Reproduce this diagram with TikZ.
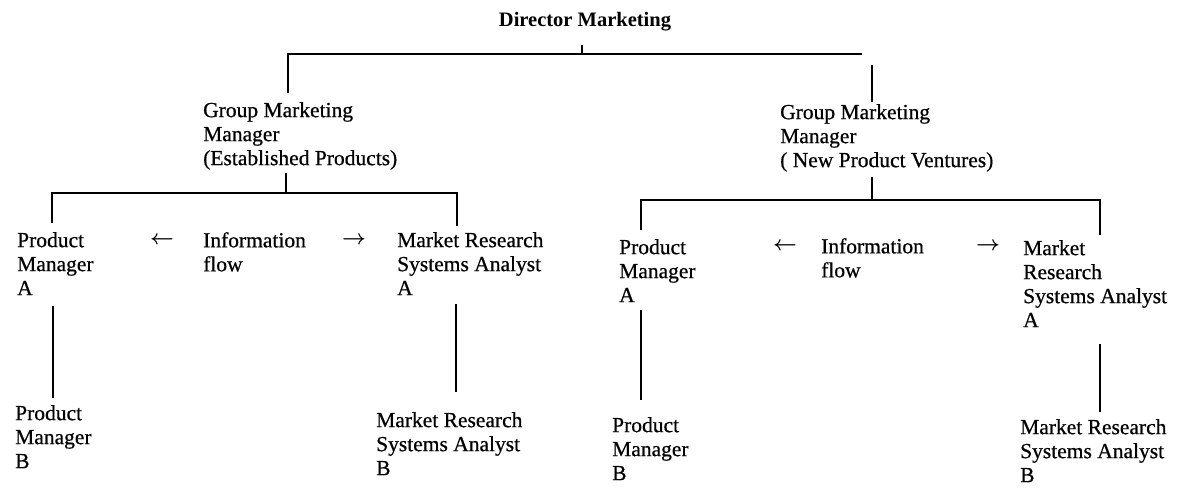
\documentclass[tikz,border=0pt]{standalone}
\usepackage{amsmath}
\usepackage{fontspec}
\setmainfont{Liberation Serif}[UprightFeatures={FakeBold=0.6}]
\usetikzlibrary{positioning}

\begin{document}
\begin{tikzpicture}[
    x = 1pt, y = -1pt,
    txt/.style = {
      anchor = north west, align = left,
      inner sep = 0pt,
      font = \fontsize{21.5}{24}\selectfont,
    },
    flow/.style = {
      inner sep = 0pt,
      font = \fontsize{21.5}{24}\selectfont,
    },
    link/.style = {
      black, line width = 1.6pt,
    },
  ]
  \useasboundingbox (0,0) rectangle (1184,488);

  \node[flow, font=\fontsize{20.5}{24}\selectfont\bfseries] (DM) at (585,22) {Director Marketing};

  \node[txt] (G1) at (203,102) {Group Marketing\\Manager\\(Established Products)};
  \node[txt] (G2) at (780,104) {Group Marketing\\Manager\\( New Product Ventures)};

  % left group
  \node[txt] (P1A) at (17,232) {Product\\Manager\\A};
  \node[flow] (L1) at (162,240) {$\boldsymbol{\leftarrow}$};
  \node[txt] (I1) at (203,232) {Information\\flow};
  \node[flow] (R1) at (354,240) {$\boldsymbol{\rightarrow}$};
  \node[txt] (M1A) at (397,232) {Market Research\\Systems Analyst\\A};
  \node[txt] (P1B) at (15,405) {Product\\Manager\\B};
  \node[txt] (M1B) at (376,412) {Market Research\\Systems Analyst\\B};

  % right group
  \node[txt] (P2A) at (619,239) {Product\\Manager\\A};
  \node[flow] (L2) at (785,246) {$\boldsymbol{\leftarrow}$};
  \node[txt] (I2) at (821,238) {Information\\flow};
  \node[flow] (R2) at (988,246) {$\boldsymbol{\rightarrow}$};
  \node[txt] (M2A) at (1023,240) {Market\\Research\\Systems Analyst\\A};
  \node[txt] (P2B) at (612,417) {Product\\Manager\\B};
  \node[txt] (M2B) at (1020,419) {Market Research\\Systems Analyst\\B};

  % connectors
  \coordinate (DMo) at (582,45);
  \coordinate (G1i) at (288,93);
  \coordinate (G2i) at (872,102);
  \draw[link] (DMo) -- ++(0,9);
  \draw[link] (G1i) -- ++(0,-39) -- ++(574,0);
  \draw[link] (G2i) -- ++(0,-37);

  \coordinate (G1o) at (286,173);
  \coordinate (P1Ai) at (52,223);
  \coordinate (M1Ai) at (457,226);
  \draw[link] (G1o) -- ++(0,20);
  \draw[link] (P1Ai) -- ++(0,-30) -- ++(405,0) -- (M1Ai);

  \coordinate (G2o) at (872,177);
  \coordinate (P2Ai) at (641,230);
  \coordinate (M2Ai) at (1100,235);
  \draw[link] (G2o) -- ++(0,23);
  \draw[link] (P2Ai) -- ++(0,-30) -- ++(459,0) -- (M2Ai);

  \coordinate (P1Ao) at (53,306);
  \coordinate (P1Bi) at (53,398);
  \coordinate (M1Ao) at (456,304);
  \coordinate (M1Bi) at (456,392);
  \draw[link] (P1Ao) -- (P1Bi);
  \draw[link] (M1Ao) -- (M1Bi);

  \coordinate (P2Ao) at (641,310);
  \coordinate (P2Bi) at (641,400);
  \coordinate (M2Ao) at (1100,344);
  \coordinate (M2Bi) at (1100,412);
  \draw[link] (P2Ao) -- (P2Bi);
  \draw[link] (M2Ao) -- (M2Bi);
\end{tikzpicture}
\end{document}
